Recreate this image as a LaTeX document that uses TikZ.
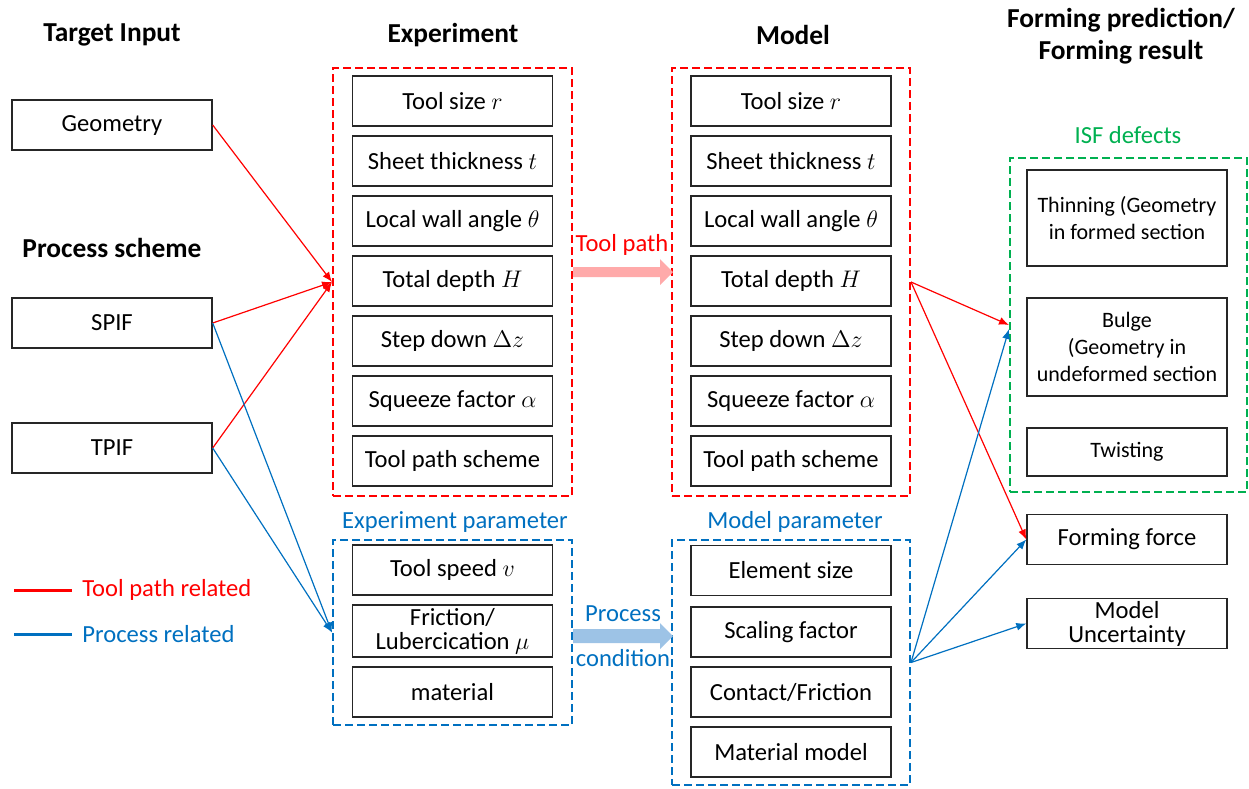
\documentclass[tikz,border=0pt]{standalone}
\usepackage{fontspec}
\setmainfont{Carlito}
\usetikzlibrary{arrows.meta}
\definecolor{myred}{HTML}{FF0000}
\definecolor{myblue}{HTML}{0070C0}
\definecolor{mygreen}{HTML}{00B050}
\definecolor{pinkarrow}{HTML}{FFAAAA}
\definecolor{bluearrow}{HTML}{9DC3E6}
\begin{document}
\begin{tikzpicture}[x=0.5pt,y=-0.5pt,
  txt/.style={font=\fontsize{12.3}{14}\selectfont},
  head/.style={font=\bfseries\fontsize{13.7}{16}\selectfont, align=center},
  box/.style={draw=black!85, line width=0.7pt, minimum width=100pt, minimum height=25pt,
    align=center, inner sep=1pt, font=\fontsize{12.3}{14}\selectfont},
  dbox/.style={box, font=\fontsize{11}{13.5}\selectfont},
  cont/.style={dashed, line width=1pt, dash pattern=on 4pt off 2pt, inner sep=0pt},
  conn/.style={line width=0.6pt, -{Latex[length=5pt,width=4pt]}},
]
\useasboundingbox (0,0) rectangle (1249,788);

% headers
\node[head] (h1) at (112,35) {Target Input};
\node[head] (h2) at (453,35) {Experiment};
\node[head] (h3) at (793,35) {Model};
\node[head] (h4) at (1121,36) {Forming prediction/\\Forming result};
\node[head] (h5) at (112,248) {Process scheme};

% target input
\node[box] (geo) at (112,125) {Geometry};
\node[box] (spif) at (112,323) {SPIF};
\node[box] (tpif) at (112,448) {TPIF};

% containers
\node[cont, draw=myred, minimum width=119.5pt, minimum height=214pt] (expbox) at (452.5,282) {};
\node[cont, draw=myred, minimum width=119pt, minimum height=214pt] (modbox) at (791,282) {};
\node[cont, draw=myblue, minimum width=119.5pt, minimum height=92.5pt] (exppar) at (452.5,632.5) {};
\node[cont, draw=myblue, minimum width=119pt, minimum height=122.5pt] (modpar) at (791,662.5) {};
\node[cont, draw=mygreen, minimum width=118.5pt, minimum height=167pt] (defbox) at (1128.5,325) {};

% experiment boxes
\node[box] (e1) at (452.5,101) {Tool size $r$};
\node[box] (e2) at (452.5,161) {Sheet thickness $t$};
\node[box] (e3) at (452.5,221) {Local wall angle $\theta$};
\node[box] (e4) at (452.5,281) {Total depth $H$};
\node[box] (e5) at (452.5,341) {Step down $\Delta z$};
\node[box] (e6) at (452.5,401) {Squeeze factor $\alpha$};
\node[box] (e7) at (452.5,461) {Tool path scheme};

% model boxes
\node[box] (m1) at (791,101) {Tool size $r$};
\node[box] (m2) at (791,161) {Sheet thickness $t$};
\node[box] (m3) at (791,221) {Local wall angle $\theta$};
\node[box] (m4) at (791,281) {Total depth $H$};
\node[box] (m5) at (791,341) {Step down $\Delta z$};
\node[box] (m6) at (791,401) {Squeeze factor $\alpha$};
\node[box] (m7) at (791,461) {Tool path scheme};

% experiment parameter
\node[txt, text=myblue] (eplab) at (455,522) {Experiment parameter};
\node[box] (ep1) at (452.5,570) {Tool speed $v$};
\node[box, minimum height=26pt, font=\fontsize{12.3}{12}\selectfont] (ep2) at (452.5,631) {Friction/\\Lubercication $\mu$};
\node[box] (ep3) at (452.5,692) {material};

% model parameter
\node[txt, text=myblue] (mplab) at (795,522) {Model parameter};
\node[box] (mp1) at (791,570.5) {Element size};
\node[box] (mp2) at (791,632) {Scaling factor};
\node[box] (mp3) at (791,692) {Contact/Friction};
\node[box] (mp4) at (791,752) {Material model};

% defects
\node[txt, text=mygreen] (deflab) at (1128,135) {ISF defects};
\node[dbox, minimum height=48pt] (d1) at (1127,218) {Thinning (Geometry\\in formed section};
\node[dbox, minimum height=49pt] (d2) at (1127,347) {Bulge\\ (Geometry in\\undeformed section};
\node[dbox, minimum height=24pt] (d3) at (1127,452) {Twisting};

\node[box] (ff) at (1127,539.5) {Forming force};
\node[box, font=\fontsize{12.3}{12}\selectfont] (mu) at (1127,623.5) {Model\\Uncertainty};

% fat arrows
\fill[pinkarrow] (573,267) -- (660,267) -- (660,259) -- (673,272) -- (660,285) -- (660,277) -- (573,277) -- cycle;
\node[txt, text=myred] (tp) at (622,245) {Tool path};
\fill[bluearrow] (573,629) -- (660,629) -- (660,623) -- (673,636) -- (660,649) -- (660,643) -- (573,643) -- cycle;
\node[txt, text=myblue] (pc1) at (623,614) {Process};
\node[txt, text=myblue] (pc2) at (623,658) {condition};

% connectors
\draw[conn, myred] (geo.east) -- (expbox.west);
\draw[conn, myred] (spif.east) -- (expbox.west);
\draw[conn, myred] (tpif.east) -- (expbox.west);
\draw[conn, myblue] (spif.east) -- (exppar.west);
\draw[conn, myblue] (tpif.east) -- (exppar.west);

\draw[conn, myred] (modbox.east) -- (defbox.west);
\draw[conn, myred] (modbox.east) -- (ff.west);
\draw[conn, myblue] (modpar.east) -- ([yshift=-2pt]defbox.west);
\draw[conn, myblue] (modpar.east) -- (ff.west);
\draw[conn, myblue] (modpar.east) -- (mu.west);

% legend
\coordinate (lr1) at (14,590);
\coordinate (lr2) at (72,590);
\coordinate (lb1) at (14,634);
\coordinate (lb2) at (72,634);
\draw[myred, line width=1.5pt] (lr1) -- (lr2);
\draw[myblue, line width=1.5pt] (lb1) -- (lb2);
\node[txt, text=myred, anchor=west, inner sep=0pt] (lt1) at (82,590) {Tool path related};
\node[txt, text=myblue, anchor=west, inner sep=0pt] (lt2) at (82,634) {Process related};
\end{tikzpicture}
\end{document}
